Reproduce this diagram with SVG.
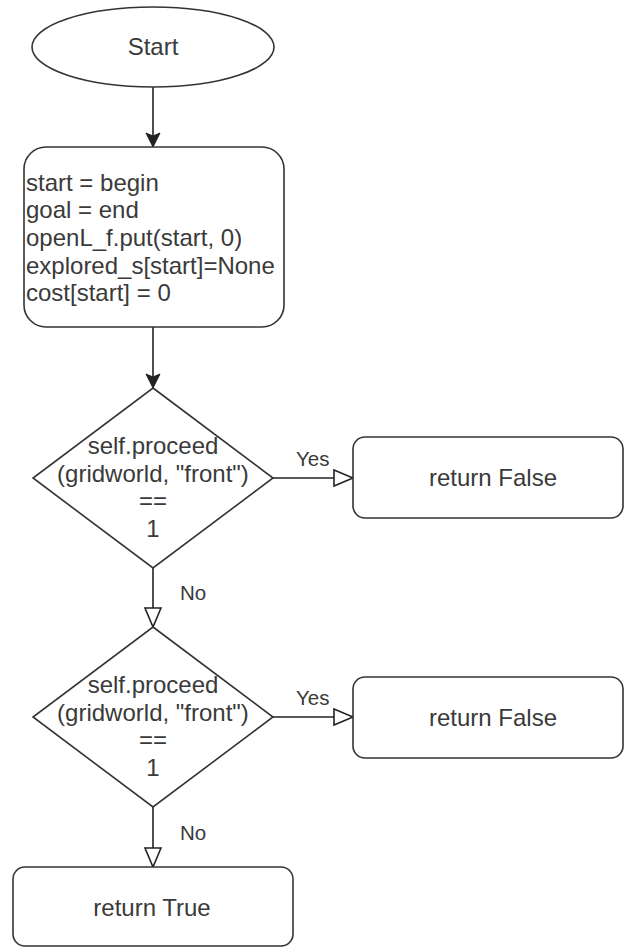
<svg xmlns="http://www.w3.org/2000/svg" width="624" height="947" viewBox="0 0 624 947">
<style>
.shape{fill:#fff;stroke:#333;stroke-width:1.6}
.edge{fill:none;stroke:#222;stroke-width:1.6}
.t{font-family:"Liberation Sans",Arial,sans-serif;font-size:24px;fill:#3a3a3a}
.c{text-anchor:middle}
.lbl{font-family:"Liberation Sans",Arial,sans-serif;font-size:20.5px;fill:#3a3a3a}
</style>
<defs>
<marker id="filled" viewBox="0 0 16 16" refX="15" refY="8" markerWidth="16" markerHeight="16" markerUnits="userSpaceOnUse" orient="auto">
<path d="M1,1 L15,8 L1,15 L4,8 Z" fill="#222" stroke="#222" stroke-width="1"/>
</marker>
<marker id="open" viewBox="0 0 22 20" refX="20.5" refY="10" markerWidth="22" markerHeight="20" markerUnits="userSpaceOnUse" orient="auto">
<path d="M1.5,2 L20.5,10 L1.5,18 Z" fill="#fff" stroke="#222" stroke-width="1.6"/>
</marker>
</defs>
<g id="connectors">
<line class="edge" x1="153" y1="87" x2="153" y2="147" marker-end="url(#filled)"/>
<line class="edge" x1="153" y1="327" x2="153" y2="388" marker-end="url(#filled)"/>
<line class="edge" x1="273" y1="478" x2="353" y2="478" marker-end="url(#open)"/>
<text class="lbl" x="296" y="466">Yes</text>
<line class="edge" x1="153" y1="568" x2="153" y2="627" marker-end="url(#open)"/>
<text class="lbl" x="180" y="600">No</text>
<line class="edge" x1="273" y1="717" x2="353" y2="717" marker-end="url(#open)"/>
<text class="lbl" x="296" y="705">Yes</text>
<line class="edge" x1="153" y1="807" x2="153" y2="867" marker-end="url(#open)"/>
<text class="lbl" x="180" y="840">No</text>
</g>
<g id="start">
<ellipse class="shape" cx="153" cy="47" rx="121" ry="40"/>
<text class="t c" x="153" y="55">Start</text>
</g>
<g id="init">
<rect class="shape" x="24" y="147" width="260" height="180" rx="22" ry="22"/>
<text class="t" x="26" y="190.5">start = begin</text>
<text class="t" x="26" y="218.2">goal = end</text>
<text class="t" x="26" y="245.9">openL_f.put(start, 0)</text>
<text class="t" x="26" y="273.6">explored_s[start]=None</text>
<text class="t" x="26" y="301.3">cost[start] = 0</text>
</g>
<g id="decision1">
<polygon class="shape" points="153,388 273,478 153,568 33,478"/>
<text class="t c" x="153" y="454">self.proceed</text>
<text class="t c" x="153" y="481.7">(gridworld, "front")</text>
<text class="t c" x="153" y="509.4">==</text>
<text class="t c" x="153" y="537">1</text>
</g>
<g id="false1">
<rect class="shape" x="353" y="437" width="270" height="81" rx="12" ry="12"/>
<text class="t c" x="493" y="486">return False</text>
</g>
<g id="decision2">
<polygon class="shape" points="153,627 273,717 153,807 33,717"/>
<text class="t c" x="153" y="693">self.proceed</text>
<text class="t c" x="153" y="720.7">(gridworld, "front")</text>
<text class="t c" x="153" y="748.4">==</text>
<text class="t c" x="153" y="776">1</text>
</g>
<g id="false2">
<rect class="shape" x="353" y="677" width="270" height="81" rx="12" ry="12"/>
<text class="t c" x="493" y="726">return False</text>
</g>
<g id="true">
<rect class="shape" x="13" y="867" width="280" height="79" rx="12" ry="12"/>
<text class="t c" x="152" y="916">return True</text>
</g>
</svg>
